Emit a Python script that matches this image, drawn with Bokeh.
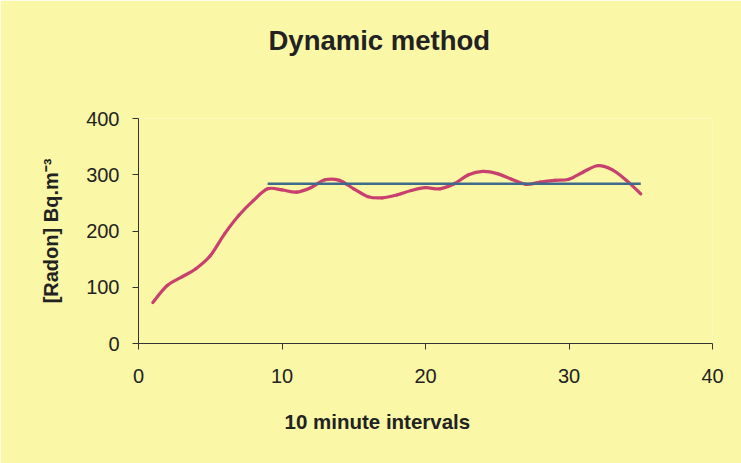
from bokeh.plotting import figure
from bokeh.models import Title, Range1d, FixedTicker, ColumnDataSource
from bokeh.embed import file_html
from bokeh.resources import INLINE

# ---- data ----
interval = list(range(1, 36))
radon = [73, 103, 118, 133, 156, 195, 228, 254, 275, 273,
         269, 277, 291, 290, 275, 261, 259, 264, 272, 277,
         275, 284, 300, 306, 302, 292, 283, 287, 290, 292,
         305, 316, 309, 290, 266]
mean_x = [9, 35]
mean_y = [284, 284]

x_ticks = [0, 10, 20, 30, 40]
y_ticks = [0, 100, 200, 300, 400]

BG = "#faf8a6"
FONT = "Liberation Sans"

p = figure(width=741, height=463, output_backend="svg", toolbar_location=None, title=None,
           x_range=Range1d(0, 40), y_range=Range1d(0, 400),
           min_border_left=138, min_border_right=29, min_border_top=118, min_border_bottom=120)
p.background_fill_color = BG
p.border_fill_color = BG
p.outline_line_color = None
p.xgrid.visible = False
p.ygrid.visible = False

# smoothed line (Excel-style) built from the data points via Catmull-Rom bezier segments
n = len(interval)
x0, y0, x1, y1, cx0, cy0, cx1, cy1 = [], [], [], [], [], [], [], []
for i in range(n - 1):
    xm = interval[i - 1] if i > 0 else interval[i]
    ym = radon[i - 1] if i > 0 else radon[i]
    xp = interval[i + 2] if i + 2 < n else interval[i + 1]
    yp = radon[i + 2] if i + 2 < n else radon[i + 1]
    x0.append(interval[i]); y0.append(radon[i])
    x1.append(interval[i + 1]); y1.append(radon[i + 1])
    cx0.append(interval[i] + (interval[i + 1] - xm) / 6)
    cy0.append(radon[i] + (radon[i + 1] - ym) / 6)
    cx1.append(interval[i + 1] - (xp - interval[i]) / 6)
    cy1.append(radon[i + 1] - (yp - radon[i]) / 6)
src = ColumnDataSource(dict(x0=x0, y0=y0, x1=x1, y1=y1, cx0=cx0, cy0=cy0, cx1=cx1, cy1=cy1))
p.bezier(x0="x0", y0="y0", x1="x1", y1="y1", cx0="cx0", cy0="cy0", cx1="cx1", cy1="cy1",
         source=src, line_color="#c8406e", line_width=3.2, line_cap="round")

p.line(mean_x, mean_y, line_color="#3e6a8c", line_width=2.6)

for ax in (p.xaxis[0], p.yaxis[0]):
    ax.axis_line_color = "#333333"
    ax.major_tick_line_color = "#333333"
    ax.major_tick_in = 0
    ax.major_tick_out = 6
    ax.minor_tick_line_color = None
    ax.major_label_text_font = FONT
    ax.major_label_text_font_size = "20px"
    ax.major_label_text_color = "#222222"

p.xaxis.ticker = FixedTicker(ticks=x_ticks)
p.yaxis.ticker = FixedTicker(ticks=y_ticks)
p.xaxis.major_label_standoff = 19
p.yaxis.major_label_standoff = 13

p.yaxis.axis_label = "[Radon] Bq.m\u207b\u00b3"
p.yaxis.axis_label_text_font = FONT
p.yaxis.axis_label_text_font_style = "bold"
p.yaxis.axis_label_text_font_size = "20px"
p.yaxis.axis_label_text_color = "#222222"
p.yaxis.axis_label_standoff = 21

# spacer between frame and title, then the title itself
spacer = Title(text=" ", text_font=FONT, text_font_size="20px", standoff=19)
p.add_layout(spacer, "above")
title = Title(text="Dynamic method", align="left", offset=130,
              text_font=FONT, text_font_size="27.5px", text_font_style="bold",
              text_color="#222222", standoff=40)
p.add_layout(title, "above")

xl = Title(text="10 minute intervals", align="left", offset=146,
           text_font=FONT, text_font_size="20.5px", text_font_style="bold",
           text_color="#222222", standoff=44)
p.add_layout(xl, "below")

open("out.html", "w").write(file_html(p, INLINE))
